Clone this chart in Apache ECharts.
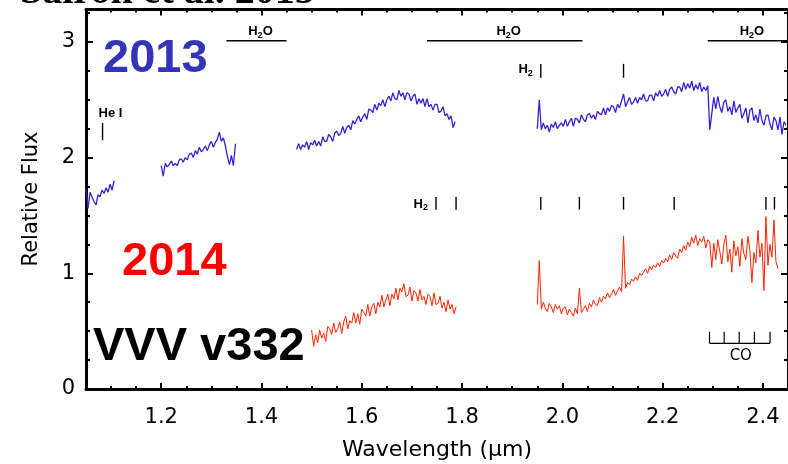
<!DOCTYPE html>
<html>
<head>
<meta charset="utf-8">
<script src="https://cdn.jsdelivr.net/npm/echarts@6/dist/echarts.min.js"></script>
<style>
  html, body { margin: 0; padding: 0; background: #fff; }
  #chart { width: 788px; height: 464px; }
</style>
</head>
<body>
<div id="chart"></div>
<script>
// Near-infrared spectra of VVV v332 at two epochs (relative flux vs wavelength in µm).
// Each spectral piece is sampled every STEP µm from its start wavelength.
const STEP = 0.004;

// 2013 epoch (blue)
const start2013 = [1.050, 1.200, 1.470, 1.950];
const flux2013_J1 = [1.73, 1.56, 1.70, 1.66, 1.62, 1.59, 1.68, 1.66, 1.72, 1.69, 1.74, 1.70, 1.77, 1.72, 1.80];
const flux2013_J2 = [1.93, 1.84, 1.95, 1.92, 1.94, 1.97, 1.93, 1.95, 1.93, 1.98, 1.99, 1.96, 2.00, 1.98, 2.03, 2.04,
  2.00, 2.06, 2.03, 2.09, 2.05, 2.07, 2.10, 2.06, 2.11, 2.14, 2.09, 2.13, 2.16, 2.22, 2.14, 2.17, 2.10, 2.01, 1.94,
  2.02, 1.93, 2.12];
const flux2013_H = [2.07, 2.12, 2.07, 2.11, 2.09, 2.14, 2.07, 2.13, 2.11, 2.15, 2.10, 2.14, 2.10, 2.18, 2.14, 2.14,
  2.20, 2.18, 2.14, 2.21, 2.23, 2.19, 2.21, 2.27, 2.21, 2.26, 2.28, 2.24, 2.32, 2.29, 2.33, 2.36, 2.31, 2.35, 2.38,
  2.33, 2.42, 2.41, 2.39, 2.46, 2.41, 2.47, 2.45, 2.50, 2.44, 2.50, 2.53, 2.49, 2.56, 2.51, 2.50, 2.58, 2.53, 2.56,
  2.50, 2.56, 2.55, 2.49, 2.53, 2.55, 2.46, 2.51, 2.47, 2.51, 2.44, 2.51, 2.44, 2.46, 2.41, 2.46, 2.46, 2.39, 2.40,
  2.44, 2.36, 2.38, 2.33, 2.36, 2.26, 2.31];
const flux2013_K = [2.25, 2.50, 2.24, 2.30, 2.25, 2.28, 2.22, 2.29, 2.26, 2.31, 2.25, 2.28, 2.30, 2.27, 2.33, 2.27,
  2.31, 2.34, 2.27, 2.34, 2.33, 2.30, 2.37, 2.33, 2.31, 2.37, 2.38, 2.34, 2.37, 2.33, 2.40, 2.38, 2.37, 2.43, 2.37,
  2.43, 2.40, 2.45, 2.44, 2.39, 2.46, 2.43, 2.49, 2.55, 2.44, 2.48, 2.52, 2.46, 2.48, 2.52, 2.47, 2.52, 2.50, 2.55,
  2.49, 2.49, 2.54, 2.54, 2.49, 2.56, 2.53, 2.58, 2.53, 2.55, 2.59, 2.53, 2.59, 2.61, 2.57, 2.55, 2.61, 2.61, 2.57,
  2.65, 2.59, 2.64, 2.60, 2.66, 2.58, 2.63, 2.59, 2.65, 2.57, 2.61, 2.58, 2.62, 2.24, 2.38, 2.52, 2.42, 2.53, 2.44,
  2.39, 2.48, 2.50, 2.40, 2.44, 2.37, 2.49, 2.39, 2.43, 2.46, 2.34, 2.38, 2.43, 2.30, 2.41, 2.43, 2.32, 2.37, 2.30,
  2.42, 2.32, 2.28, 2.36, 2.37, 2.29, 2.24, 2.35, 2.32, 2.24, 2.35, 2.20, 2.31, 2.28];

// 2014 epoch (red)
const start2014 = [1.500, 1.950];
const flux2014_H = [0.51, 0.37, 0.47, 0.40, 0.51, 0.44, 0.48, 0.41, 0.54, 0.52, 0.47, 0.57, 0.49, 0.52, 0.58, 0.48,
  0.58, 0.63, 0.52, 0.59, 0.57, 0.66, 0.57, 0.65, 0.56, 0.69, 0.66, 0.63, 0.73, 0.63, 0.71, 0.74, 0.65, 0.75, 0.71,
  0.81, 0.71, 0.77, 0.82, 0.72, 0.82, 0.78, 0.87, 0.77, 0.87, 0.84, 0.91, 0.80, 0.81, 0.88, 0.76, 0.85, 0.83, 0.76,
  0.86, 0.77, 0.80, 0.73, 0.82, 0.80, 0.72, 0.83, 0.73, 0.74, 0.80, 0.70, 0.75, 0.67, 0.77, 0.69, 0.73, 0.65, 0.71];
const flux2014_K = [0.73, 1.11, 0.69, 0.75, 0.70, 0.67, 0.74, 0.71, 0.66, 0.73, 0.69, 0.72, 0.65, 0.70, 0.71, 0.64,
  0.69, 0.66, 0.63, 0.70, 0.65, 0.87, 0.66, 0.69, 0.72, 0.67, 0.74, 0.71, 0.77, 0.73, 0.72, 0.79, 0.75, 0.80, 0.78,
  0.83, 0.79, 0.82, 0.86, 0.81, 0.85, 0.88, 0.84, 1.32, 0.87, 0.92, 0.90, 0.95, 0.93, 0.97, 0.94, 1.00, 0.98, 1.01,
  1.04, 1.00, 1.06, 1.03, 1.07, 1.05, 1.09, 1.06, 1.11, 1.09, 1.13, 1.10, 1.16, 1.12, 1.18, 1.15, 1.13, 1.21, 1.18,
  1.24, 1.20, 1.27, 1.23, 1.31, 1.26, 1.33, 1.24, 1.30, 1.27, 1.32, 1.22, 1.29, 1.27, 1.05, 1.26, 1.12, 1.29, 1.19,
  1.08, 1.25, 1.33, 1.10, 1.21, 1.01, 1.28, 1.15, 1.23, 1.06, 1.30, 1.17, 1.12, 1.32, 1.20, 0.92, 1.18, 1.09, 1.37,
  1.14, 1.26, 0.85, 1.49, 1.07, 1.25, 1.14, 1.46, 1.10, 1.04];

// Axis ticks
const xMajorTicks = [1.2, 1.4, 1.6, 1.8, 2.0, 2.2, 2.4];
const xMinorTicks = [1.10, 1.15, 1.25, 1.30, 1.35, 1.45, 1.50, 1.55, 1.65, 1.70, 1.75, 1.85, 1.90, 1.95,
  2.05, 2.10, 2.15, 2.25, 2.30, 2.35, 2.45];
const yMajorTicks = [0, 1, 2, 3];
const yMinorTicks = [0.25, 0.5, 0.75, 1.25, 1.5, 1.75, 2.25, 2.5, 2.75, 3.25];

// Line identifications (µm)
const h2oBands = [[1.33, 1.45], [1.73, 2.04], [2.29, 2.45]];
const h2Upper = [1.957, 2.122];
const h2Lower = [1.748, 1.788, 1.957, 2.034, 2.122, 2.223, 2.406, 2.423];
const heI = [1.083];
const coBandheads = [2.2935, 2.3227, 2.3527, 2.3830, 2.4142];

const BLUE = '#3a1fd4';
const RED = '#ff2200';

function spectrum(start, flux) {
  return flux.map((f, i) => [+(start + i * STEP).toFixed(4), f]);
}

// Annotation strokes as [x1, y1, x2, y2, width]
const segs = [];
h2oBands.forEach(b => segs.push([b[0], 3.01, b[1], 3.01, 1.6]));
h2Upper.forEach(w => segs.push([w, 2.81, w, 2.69, 1.4]));
h2Lower.forEach(w => segs.push([w, 1.66, w, 1.55, 1.4]));
heI.forEach(w => segs.push([w, 2.30, w, 2.15, 1.4]));
segs.push([coBandheads[0], 0.395, coBandheads[coBandheads.length - 1], 0.395, 1.2]);
coBandheads.forEach(w => segs.push([w, 0.395, w, 0.495, 1.2]));

const chart = echarts.init(document.getElementById('chart'), null, { renderer: 'canvas' });

const axisLineStyle = { color: '#000', width: 3 };
const tickStyle = { color: '#000', width: 2 };

function xAx(pos, ticks, len, withLabels, withLine) {
  return {
    type: 'value', min: 1.05, max: 2.45, position: pos, gridIndex: 0,
    axisLine: { show: withLine, onZero: false, lineStyle: axisLineStyle },
    axisTick: { show: true, inside: true, length: len, lineStyle: tickStyle, customValues: ticks },
    axisLabel: withLabels ? {
      show: true, customValues: ticks, formatter: v => v.toFixed(1), margin: 18,
      fontSize: 21, fontFamily: 'DejaVu Sans', color: '#000'
    } : { show: false },
    splitLine: { show: false }
  };
}
function yAx(pos, ticks, len, withLabels, withLine) {
  return {
    type: 'value', min: 0, max: 3.28, position: pos, gridIndex: 0,
    axisLine: { show: withLine, onZero: false, lineStyle: axisLineStyle },
    axisTick: { show: true, inside: true, length: len, lineStyle: tickStyle, customValues: ticks },
    axisLabel: withLabels ? {
      show: true, customValues: ticks, formatter: v => String(v), margin: 11,
      fontSize: 21, fontFamily: 'DejaVu Sans', color: '#000'
    } : { show: false },
    splitLine: { show: false }
  };
}

const lineSeries = (data, color, width) => ({
  type: 'line', data, xAxisIndex: 0, yAxisIndex: 0, showSymbol: false, symbol: 'none',
  lineStyle: { color, width }, silent: true, animation: false, z: 3
});

chart.setOption({
  animation: false,
  backgroundColor: '#fff',
  grid: { left: 86, top: 9.5, width: 703.5, height: 379.5 },
  xAxis: [
    xAx('bottom', xMajorTicks, 6, true, true),
    xAx('bottom', xMinorTicks, 3, false, false),
    xAx('top', xMajorTicks, 6, false, true),
    xAx('top', xMinorTicks, 3, false, false)
  ],
  yAxis: [
    yAx('left', yMajorTicks, 7, true, true),
    yAx('left', yMinorTicks, 4, false, false),
    yAx('right', yMajorTicks, 7, false, true),
    yAx('right', yMinorTicks, 4, false, false)
  ],
  series: [
    lineSeries(spectrum(start2013[0], flux2013_J1), BLUE, 1.3),
    lineSeries(spectrum(start2013[1], flux2013_J2), BLUE, 1.3),
    lineSeries(spectrum(start2013[2], flux2013_H), BLUE, 1.3),
    lineSeries(spectrum(start2013[3], flux2013_K), BLUE, 1.3),
    lineSeries(spectrum(start2014[0], flux2014_H), RED, 1),
    lineSeries(spectrum(start2014[1], flux2014_K), RED, 1),
    {
      type: 'custom', xAxisIndex: 0, yAxisIndex: 0, data: segs, silent: true, z: 4,
      encode: { x: [0, 2], y: [1, 3] },
      renderItem: (params, api) => {
        const a = api.coord([api.value(0), api.value(1)]);
        const b = api.coord([api.value(2), api.value(3)]);
        return {
          type: 'line',
          shape: { x1: a[0], y1: a[1], x2: b[0], y2: b[1] },
          style: { stroke: '#000', lineWidth: api.value(4) }
        };
      }
    }
  ]
});

// Text labels placed at data positions
const px = (w, f) => chart.convertToPixel({ xAxisIndex: 0, yAxisIndex: 0 }, [w, f]);
const subRich = {
  b: { fontSize: 13, fontWeight: 'bold', fontFamily: 'Liberation Sans', fill: '#000', lineHeight: 16 },
  s: { fontSize: 9, fontWeight: 'bold', fontFamily: 'Liberation Sans', fill: '#000', lineHeight: 16, padding: [7, 0, 0, 0] }
};
const texts = [];
h2oBands.forEach(b => {
  const p = px((b[0] + b[1]) / 2, 3.01);
  texts.push({ type: 'text', style: { text: '{b|H}{s|2}{b|O}', rich: subRich, x: p[0] + 4, y: p[1] - 9, align: 'center', verticalAlign: 'middle' } });
});
{
  const p = px(h2Upper[0], 2.75);
  texts.push({ type: 'text', style: { text: '{b|H}{s|2}', rich: subRich, x: p[0] - 8, y: p[1] - 1, align: 'right', verticalAlign: 'middle' } });
  const q = px(h2Lower[0], 1.605);
  texts.push({ type: 'text', style: { text: '{b|H}{s|2}', rich: subRich, x: q[0] - 8, y: q[1] + 1, align: 'right', verticalAlign: 'middle' } });
  const h = px(heI[0], 2.30);
  texts.push({ type: 'text', style: { text: 'He I', x: h[0] - 4, y: h[1] - 9, align: 'left', verticalAlign: 'middle', fontSize: 13, fontWeight: 'bold', fontFamily: 'Liberation Sans', fill: '#000' } });
  const c = px((coBandheads[0] + coBandheads[coBandheads.length - 1]) / 2, 0.395);
  texts.push({ type: 'text', style: { text: 'CO', x: c[0] + 1, y: c[1] + 13, align: 'center', verticalAlign: 'middle', fontSize: 15, fontFamily: 'DejaVu Sans', fill: '#000' } });
}

texts.push(
  { type: 'text', style: { text: '2013', x: 103, y: 59, align: 'left', verticalAlign: 'middle', fontSize: 47, fontWeight: 'bold', fontFamily: 'Liberation Sans', fill: '#3434b8' } },
  { type: 'text', style: { text: '2014', x: 122, y: 262, align: 'left', verticalAlign: 'middle', fontSize: 47, fontWeight: 'bold', fontFamily: 'Liberation Sans', fill: '#ff0000' } },
  { type: 'text', style: { text: 'VVV v332', x: 93, y: 347, align: 'left', verticalAlign: 'middle', fontSize: 47, fontWeight: 'bold', fontFamily: 'Liberation Sans', fill: '#000' } },
  { type: 'text', style: { text: 'Sairon et al. 2015', x: 20, y: 13, align: 'left', verticalAlign: 'bottom', fontSize: 40, fontWeight: 'bold', fontFamily: 'Liberation Serif', fill: '#000' } },
  { type: 'text', style: { text: 'Wavelength (\u03bcm)', x: 437, y: 450, align: 'center', verticalAlign: 'middle', fontSize: 22, fontFamily: 'DejaVu Sans', fill: '#000' } },
  { type: 'text', rotation: Math.PI / 2, x: 32, y: 199, style: { text: 'Relative Flux', x: 0, y: 0, align: 'center', verticalAlign: 'middle', fontSize: 21, fontFamily: 'DejaVu Sans', fill: '#000' } }
);

chart.setOption({ graphic: texts.map(t => Object.assign({ silent: true, z: 10 }, t)) });
</script>
</body>
</html>
